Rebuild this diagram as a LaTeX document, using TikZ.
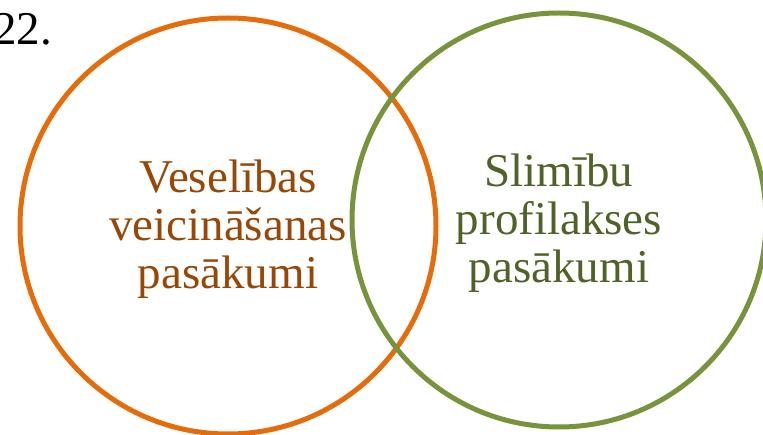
\documentclass[tikz,border=0pt]{standalone}
\usepackage{fontspec}
\setmainfont{Liberation Serif}
\usepackage{tikz}
\definecolor{ringorange}{HTML}{E46C0A}
\definecolor{textorange}{HTML}{974706}
\definecolor{ringgreen}{HTML}{77933C}
\definecolor{textgreen}{HTML}{4F6228}
\begin{document}
\begin{tikzpicture}[x=1pt,y=1pt]
            \tikzstyle{ring}=[circle,line width=5pt,fill=none,inner sep=0pt]
            \tikzstyle{label}=[align=center,inner sep=0pt,font=\fontsize{47}{48}\selectfont]
                    \useasboundingbox (0,0) rectangle (763,434);
                    \node[anchor=base west,inner sep=0pt,font=\fontsize{47}{47}\selectfont] (N-0) at (-7,389) {22.};

                    \node[ring,draw=ringorange,minimum size=416pt] (C-0) at (228,208) {};
                    \node[ring,draw=ringgreen,minimum size=414pt] (C-1) at (559,214) {};

                    \node[label,text=textorange] (T-0) at ([yshift=-3pt]C-0.center) {Veselības\\veicināšanas\\pasākumi};
                    \node[label,text=textgreen] (T-1) at ([yshift=-3pt]C-1.center) {Slimību\\profilakses\\pasākumi};
        \end{tikzpicture}
\end{document}
